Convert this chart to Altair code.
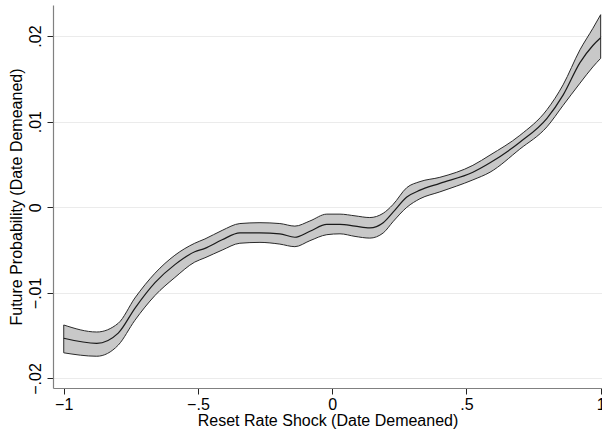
import altair as alt
import pandas as pd

xs = [-1.0, -0.877, -0.797, -0.735, -0.66, -0.586, -0.512, -0.474, -0.41, -0.344,
      -0.269, -0.195, -0.139, -0.083, -0.02, 0.029, 0.085, 0.14, 0.19, 0.226,
      0.278, 0.327, 0.401, 0.524, 0.588, 0.699, 0.8, 0.86, 0.923, 0.971, 1.0]
center = [-0.0153, -0.0159, -0.0147, -0.0118, -0.0088, -0.0067, -0.0052, -0.0048, -0.0038, -0.0030,
          -0.0030, -0.0031, -0.0035, -0.0028, -0.0020, -0.0020, -0.0022, -0.0024, -0.0018, -0.0006,
          0.0012, 0.0020, 0.0028, 0.0041, 0.0052, 0.0076, 0.0104, 0.0131, 0.0169, 0.0189, 0.0198]
upper = [-0.01375, -0.01457, -0.01355, -0.0106, -0.0077, -0.0056, -0.0042, -0.0037, -0.0027, -0.0019,
         -0.0018, -0.0019, -0.0022, -0.0016, -0.0008, -0.0008, -0.0010, -0.0012, -0.0007, 0.0003,
         0.0023, 0.0030, 0.0035, 0.0049, 0.0061, 0.0084, 0.0114, 0.0143, 0.0184, 0.0209, 0.0225]
lower = [-0.0170, -0.0174, -0.0161, -0.0132, -0.0103, -0.0082, -0.0064, -0.0059, -0.0050, -0.0042,
         -0.0041, -0.0043, -0.0046, -0.0039, -0.0032, -0.0031, -0.0034, -0.0036, -0.0030, -0.0017,
         0.0000, 0.0010, 0.0018, 0.0032, 0.0041, 0.0068, 0.0094, 0.0119, 0.0145, 0.0164, 0.0174]

x_ticks = [-1, -0.5, 0, 0.5, 1]
y_ticks = [-0.02, -0.01, 0, 0.01, 0.02]

df = pd.DataFrame({"x": xs, "c": center, "lo": lower, "hi": upper})

FONT = "Liberation Sans"
lab_x = "datum.value == 0 ? '0' : (abs(datum.value) == 1 ? replace(format(datum.value, 'd'), '-', '\u2013') : replace(replace(format(datum.value, '.1f'), '0.', '.'), '-', '\u2013'))"
lab_y = "datum.value == 0 ? '0' : replace(replace(format(datum.value, '.2f'), '0.', '.'), '-', '\u2013')"

xscale = alt.Scale(domain=[-1.04, 1.005], nice=False, zero=False)
yscale = alt.Scale(domain=[-0.02111, 0.02363], nice=False, zero=False)

xaxis = alt.Axis(title="Reset Rate Shock (Date Demeaned)", values=x_ticks, labelExpr=lab_x,
                 grid=False, tickSize=6, tickColor="#222", domainColor="#808080", domainWidth=1.2,
                 labelFontSize=16, titleFontSize=16, labelFont=FONT, titleFont=FONT,
                 labelColor="#000", titleColor="#000", titleFontWeight="normal",
                 labelPadding=2, titlePadding=0, labelFlush=False)
yaxis = alt.Axis(title="Future Probability (Date Demeaned)", values=y_ticks, labelExpr=lab_y,
                 grid=True, gridColor="#ebebeb", gridWidth=1.2, tickSize=6, tickColor="#222",
                 domainColor="#808080", domainWidth=1.2,
                 labelAngle=270, labelAlign="center", labelBaseline="bottom",
                 labelFontSize=16, titleFontSize=16, labelFont=FONT, titleFont=FONT,
                 labelColor="#000", titleColor="#000", titleFontWeight="normal",
                 labelPadding=4, titlePadding=3, labelFlush=False)

band = alt.Chart(df).mark_area(fill="#c8c8c8", stroke="#2a2a2a", strokeWidth=1,
                               interpolate="monotone", opacity=1).encode(
    x=alt.X("x:Q", scale=xscale, axis=xaxis),
    y=alt.Y("lo:Q", scale=yscale, axis=yaxis),
    y2="hi:Q",
)
line = alt.Chart(df).mark_line(color="#1a1a1a", strokeWidth=1.2, interpolate="monotone").encode(
    x=alt.X("x:Q", scale=xscale),
    y=alt.Y("c:Q", scale=yscale),
)

chart = alt.layer(band, line).properties(
    width=549, height=383,
    padding={"left": 53, "top": 5, "right": 0, "bottom": 46},
    autosize=alt.AutoSizeParams(type="none"),
    background="white",
).configure_view(stroke=None)

chart.save("out.html", embed_options={"renderer": "svg", "actions": False})
